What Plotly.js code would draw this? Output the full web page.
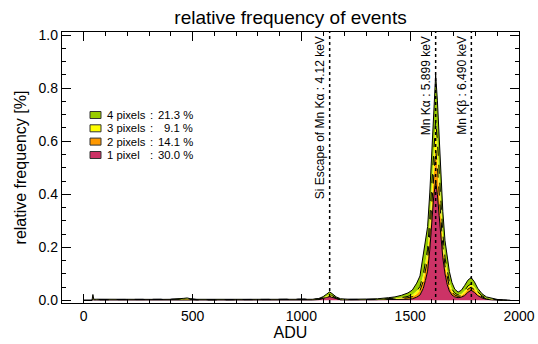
<!DOCTYPE html>
<html>
<head>
<meta charset="utf-8">
<script src="https://cdn.plot.ly/plotly-3.0.1.min.js"></script>
<style>html,body{margin:0;padding:0;background:#fff;}#chart{width:538px;height:344px;}</style>
</head>
<body>
<div id="chart"></div>
<script>
// ADU bins
var adu = [0, 38, 42, 46, 60, 100, 150, 200, 250, 300, 350, 400, 440, 460, 475, 490, 520, 600, 700, 800, 900, 1000, 1050, 1080, 1100, 1115, 1130, 1145, 1160, 1180, 1220, 1300, 1350, 1400, 1430, 1460, 1490, 1510, 1530, 1545, 1560, 1570, 1580, 1590, 1600, 1608, 1617, 1625, 1633, 1641, 1650, 1660, 1670, 1680, 1692, 1705, 1720, 1735, 1750, 1765, 1780, 1795, 1810, 1830, 1850, 1875, 1900, 1930, 1960];
// relative frequency per event size (not cumulative)
var onePixel = [0, 0, .004, .0015, .0015, .0014, .0013, .0012, .0012, .0012, .0012, .0013, .0016, .0025, .003, .002, .0013, .0012, .0012, .0012, .0012, .0013, .0015, .003, .006, .011, .014, .010, .005, .002, .0015, .0015, .0016, .002, .0025, .003, .004, .006, .012, .020, .045, .075, .110, .190, .300, .390, .450, .400, .320, .240, .160, .100, .060, .035, .020, .013, .010, .012, .018, .030, .038, .030, .018, .009, .004, .002, .001, .0005, 0];
var twoPixels = [0, 0, .003, .0008, .0008, .0008, .0007, .0007, .0007, .0007, .0007, .0007, .0009, .0012, .0015, .001, .0008, .0007, .0007, .0008, .0008, .0008, .0008, .001, .002, .003, .004, .003, .002, .001, .0008, .001, .0012, .002, .0025, .004, .006, .008, .012, .017, .027, .035, .045, .060, .080, .100, .120, .105, .085, .065, .045, .030, .025, .017, .011, .007, .005, .006, .009, .012, .012, .010, .007, .004, .002, .001, .0005, .0002, 0];
var threePixels = [0, 0, .003, .0005, .0005, .0005, .0005, .0005, .0005, .0005, .0005, .0005, .0006, .0009, .0011, .0008, .0005, .0005, .0005, .0005, .0005, .0005, .0005, .001, .002, .003, .004, .003, .002, .001, .0006, .0007, .0008, .0015, .002, .003, .005, .007, .011, .015, .025, .028, .038, .055, .075, .095, .110, .095, .080, .060, .045, .030, .025, .017, .011, .007, .005, .006, .009, .012, .012, .010, .007, .004, .002, .001, .0005, .0002, 0];
var fourPixels = [0, 0, .012, .0012, .0015, .0012, .0013, .0011, .0012, .0013, .0012, .0014, .0018, .003, .0035, .0025, .0013, .0012, .0014, .0012, .0013, .0012, .0012, .002, .004, .006, .010, .007, .004, .002, .0012, .0018, .0024, .0045, .006, .009, .013, .018, .030, .040, .070, .075, .085, .100, .125, .150, .170, .155, .135, .110, .085, .065, .060, .040, .025, .015, .011, .014, .020, .022, .024, .020, .014, .008, .005, .003, .0015, .0006, 0];

var legendNames = ['4 pixels', '3 pixels', '2 pixels', '1 pixel'];
var legendPct = ['21.3 %', '9.1 %', '14.1 %', '30.0 %'];
var lineADU = [1130, 1617, 1781];
var lineLabels = ['Si Escape of Mn K\u03b1 : 4.12 keV', 'Mn K\u03b1 : 5.899 keV', 'Mn K\u03b2 : 6.490 keV'];

var colors = {one: '#cc3366', two: '#ff9900', three: '#ffff00', four: '#99cc00'};
var legendColors = [colors.four, colors.three, colors.two, colors.one];

function layer(y, col, dash) {
  return {x: adu, y: y, type: 'scatter', mode: 'lines', stackgroup: 'ev',
    fillcolor: col, line: {color: 'black', width: 1, dash: dash}, showlegend: false, hoverinfo: 'skip'};
}
var traces = [
  layer(onePixel, colors.one, 'solid'),
  layer(twoPixels, colors.two, 'dash'),
  layer(threePixels, colors.three, 'dash'),
  layer(fourPixels, colors.four, 'solid')
];

var L = 62, R = 19, T = 32, B = 41, W = 538, H = 344;
var pw = W - L - R, ph = H - T - B;
function px(x) { return (x - L) / pw; }
function py(y) { return (H - B - y) / ph; }

var txtFont = {family: 'Liberation Sans, Arial, sans-serif', size: 12, color: 'black'};
var legFont = {family: 'Liberation Sans, Arial, sans-serif', size: 11.3, color: 'black'};
var shapes = [], annotations = [];
lineADU.forEach(function (v, i) {
  shapes.push({type: 'line', xref: 'x', yref: 'paper', x0: v, x1: v, y0: 0, y1: 1,
    line: {color: 'black', width: 1.5, dash: 'dot'}});
  annotations.push({x: v, xref: 'x', y: 1, yref: 'paper', yanchor: 'top', xanchor: 'right',
    xshift: -1, yshift: -2, textangle: -90, showarrow: false, text: lineLabels[i], font: txtFont});
});
var rowY = [115, 128.3, 141.6, 155];
legendNames.forEach(function (n, i) {
  shapes.push({type: 'rect', xref: 'paper', yref: 'paper', x0: px(90), x1: px(101),
    y0: py(rowY[i] + 3.5), y1: py(rowY[i] - 3.5), fillcolor: legendColors[i],
    line: {color: '#333', width: 1}});
  annotations.push({xref: 'paper', yref: 'paper', x: px(105), y: py(rowY[i]), xanchor: 'left', yanchor: 'middle', showarrow: false, text: n, font: legFont});
  annotations.push({xref: 'paper', yref: 'paper', x: px(151), y: py(rowY[i]), xanchor: 'center', yanchor: 'middle', showarrow: false, text: ':', font: legFont});
  annotations.push({xref: 'paper', yref: 'paper', x: px(195), y: py(rowY[i]), xanchor: 'right', yanchor: 'middle', showarrow: false, text: legendPct[i], font: legFont});
});

var axFont = {family: 'Liberation Sans, Arial, sans-serif', size: 14, color: 'black'};
var layout = {
  width: W, height: H,
  margin: {l: L, r: R, t: T, b: B, pad: 0},
  paper_bgcolor: 'white', plot_bgcolor: 'white',
  font: {family: 'Liberation Sans, Arial, sans-serif', color: 'black'},
  title: {text: 'relative frequency of events', font: {size: 19, color: 'black'},
    x: 0.5, xref: 'paper', xanchor: 'center', y: 1 - 17 / H, yref: 'container', yanchor: 'middle'},
  xaxis: {range: [-100, 2000], tick0: 0, dtick: 500, ticks: 'inside', ticklen: 9, tickwidth: 1,
    tickcolor: 'black', showline: true, linecolor: 'black', linewidth: 1.2, mirror: 'allticks',
    showgrid: false, zeroline: false, tickfont: axFont,
    minor: {dtick: 100, ticks: 'inside', ticklen: 4, tickcolor: 'black', tickwidth: 1, showgrid: false},
    title: {text: 'ADU', font: {size: 16, color: 'black'}, standoff: 2}, automargin: false},
  yaxis: {range: [-0.01, 1.012], tick0: 0, dtick: 0.2, tickformat: '.1f', ticks: 'inside', ticklen: 9, tickwidth: 1,
    tickcolor: 'black', showline: true, linecolor: 'black', linewidth: 1.2, mirror: 'allticks',
    showgrid: false, zeroline: false, tickfont: axFont,
    minor: {dtick: 0.05, ticks: 'inside', ticklen: 4, tickcolor: 'black', tickwidth: 1, showgrid: false},
    title: {text: 'relative frequency [%]', font: {size: 16, color: 'black'}, standoff: 8}, automargin: false},
  shapes: shapes, annotations: annotations, showlegend: false
};
Plotly.newPlot('chart', traces, layout, {displayModeBar: false, staticPlot: true});
</script>
</body>
</html>
